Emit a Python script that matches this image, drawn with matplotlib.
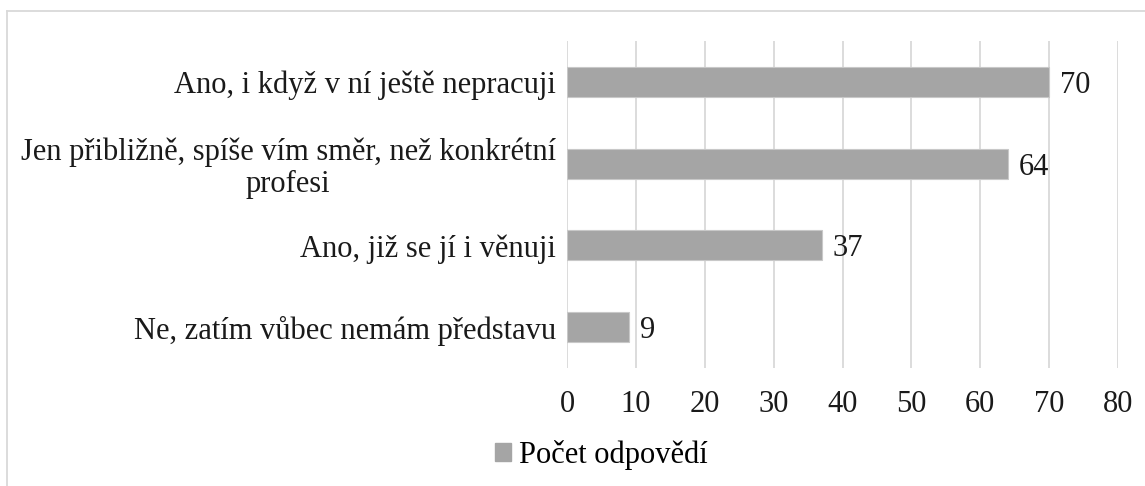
import matplotlib.pyplot as plt
import matplotlib.transforms as mtransforms
from matplotlib.lines import Line2D
from matplotlib.patches import Patch

# ------------ data -------------#
categories = [
    "Ano, i když v ní ještě nepracuji",
    "Jen přibližně, spíše vím směr, než konkrétní\nprofesi",
    "Ano, již se jí i věnuji",
    "Ne, zatím vůbec nemám představu",
]
values = [70, 64, 37, 9]
x_ticks = [0, 10, 20, 30, 40, 50, 60, 70, 80]
series_name = "Počet odpovědí"

plt.rcParams["font.family"] = ["Liberation Serif", "DejaVu Serif"]
fs = 22

fig = plt.figure(figsize=(11.45, 4.86), dpi=100)
ax = fig.add_axes([567 / 1145, 1 - 368 / 486, 551 / 1145, 327 / 486])

bar_color = "#A5A5A5"
grid_color = "#D9D9D9"

ypos = list(range(len(categories)))
ax.barh(ypos, values, height=0.37, color=bar_color, edgecolor="#C8C8C8", linewidth=0.8, zorder=3)

# value labels
for y, v in zip(ypos, values):
    ax.text(v + 1.6, y, str(v), va="center_baseline", ha="left", fontsize=fs, color="#1a1a1a")

ax.set_xlim(0, 80)
ax.set_ylim(3.5, -0.5)
ax.set_xticks(x_ticks)
ax.set_yticks(ypos)
ax.set_yticklabels(categories, multialignment="center", linespacing=1.12)

# two-line label sits a little lower in the original
offset = mtransforms.ScaledTranslation(-3 / 100, -4 / 100, fig.dpi_scale_trans)
lbl = ax.get_yticklabels()[1]
lbl.set_transform(lbl.get_transform() + offset)

ax.grid(axis="x", color=grid_color, linewidth=1.3, zorder=0)
for side in ["top", "right", "left", "bottom"]:
    ax.spines[side].set_visible(False)

ax.tick_params(axis="x", length=0, pad=16, labelsize=fs, colors="#1a1a1a")
ax.tick_params(axis="y", length=0, pad=8, labelsize=fs, colors="#1a1a1a")

# legend
handle = Patch(facecolor=bar_color, edgecolor=bar_color)
fig.legend([handle], [series_name], loc="center", bbox_to_anchor=(0.525, 1 - 455 / 486),
           frameon=False, fontsize=fs, handlelength=0.55, handleheight=0.55, handletextpad=0.25)

# chart border (cut at right and bottom)
fig.add_artist(Line2D([7 / 1145, 1.0], [1 - 11 / 486, 1 - 11 / 486], color="#D9D9D9", linewidth=1.3,
                      transform=fig.transFigure))
fig.add_artist(Line2D([7 / 1145, 7 / 1145], [0.0, 1 - 11 / 486], color="#D9D9D9", linewidth=1.3,
                      transform=fig.transFigure))

fig.savefig("out.png", dpi=100)
